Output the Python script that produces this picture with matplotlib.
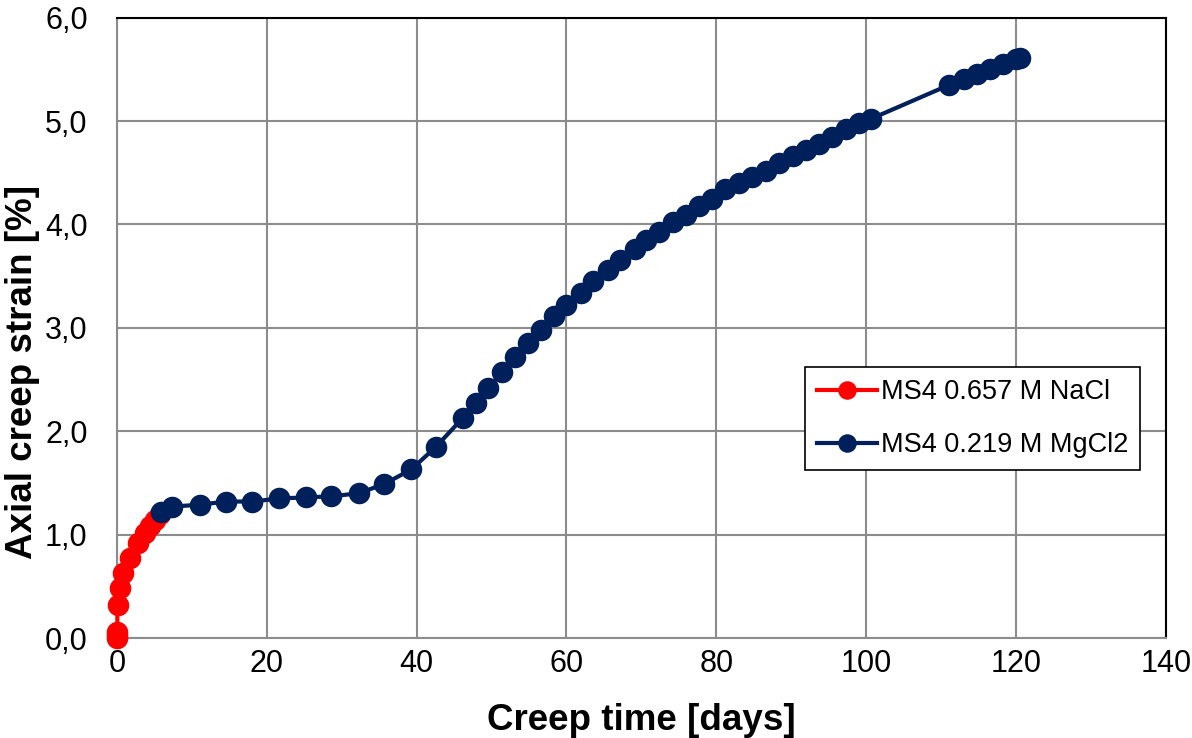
import matplotlib.pyplot as plt
from matplotlib.ticker import FuncFormatter

plt.rcParams['font.family'] = ['Liberation Sans', 'DejaVu Sans']

# MS4 0.657 M NaCl
nacl_days = [0.0, 0.02, 0.05, 0.1, 0.4, 0.85, 1.7, 2.8, 3.7, 4.4, 5.1, 5.7]
nacl_strain = [0.0, 0.03, 0.06, 0.32, 0.48, 0.63, 0.77, 0.92, 1.02, 1.08, 1.14, 1.2]

# MS4 0.219 M MgCl2
mgcl_days = [5.95, 7.3, 11.1, 14.6, 18.1, 21.7, 25.2, 28.6, 32.3, 35.7, 39.3, 42.6,
             46.2, 47.9, 49.6, 51.4, 53.2, 54.9, 56.6, 58.4, 60.0, 61.9, 63.6, 65.5,
             67.1, 69.1, 70.6, 72.4, 74.2, 75.9, 77.7, 79.5, 81.2, 83.1, 84.8, 86.6,
             88.4, 90.2, 92.0, 93.7, 95.5, 97.3, 99.1, 100.6, 111.1, 113.1, 114.8,
             116.5, 118.3, 120.0, 120.6]
mgcl_strain = [1.22, 1.27, 1.29, 1.32, 1.32, 1.35, 1.36, 1.37, 1.40, 1.49, 1.63, 1.85,
               2.13, 2.27, 2.42, 2.57, 2.72, 2.85, 2.98, 3.11, 3.22, 3.34, 3.45, 3.56,
               3.66, 3.76, 3.85, 3.93, 4.02, 4.09, 4.18, 4.25, 4.34, 4.40, 4.46, 4.52,
               4.59, 4.66, 4.72, 4.78, 4.85, 4.92, 4.98, 5.02, 5.35, 5.41, 5.46,
               5.50, 5.55, 5.60, 5.61]

fig = plt.figure(figsize=(11.92, 7.38), dpi=100)
ax = fig.add_axes([0.098, 0.1355, 0.88, 0.8405])

ax.plot(nacl_days, nacl_strain, color='#ff0000', lw=3, marker='o', ms=14.5,
        label='MS4 0.657 M NaCl', zorder=3, clip_on=False)
ax.plot(mgcl_days, mgcl_strain, color='#00205b', lw=3, marker='o', ms=14.5,
        label='MS4 0.219 M MgCl2', zorder=4, clip_on=False)

ax.set_xlim(0, 140)
ax.set_ylim(0, 6)
ax.set_xticks(range(0, 141, 20))
ax.set_yticks([0, 1, 2, 3, 4, 5, 6])
ax.yaxis.set_major_formatter(FuncFormatter(lambda v, p: f'{v:.1f}'.replace('.', ',')))
ax.tick_params(length=0, labelsize=22)
ax.tick_params(axis='y', pad=21)
ax.tick_params(axis='x', pad=8)

ax.grid(True, color='#8c8c8c', lw=1.5)
ax.set_axisbelow(True)
for s in ['left', 'bottom']:
    ax.spines[s].set_color('#8c8c8c')
    ax.spines[s].set_linewidth(1.5)
for s in ['top', 'right']:
    ax.spines[s].set_color('black')
    ax.spines[s].set_linewidth(1.5)

ax.set_xlabel('Creep time [days]', fontsize=26.5, fontweight='bold', labelpad=17)
ax.set_ylabel('Axial creep strain [%]', fontsize=26.5, fontweight='bold')
ax.yaxis.set_label_coords(-0.0735, 0.429)

leg = ax.legend(loc='upper left', bbox_to_anchor=(0.656, 0.437), fontsize=19.5,
                frameon=True, fancybox=False, edgecolor='black', framealpha=1,
                borderpad=0.45, labelspacing=1.0, handlelength=2.2, handletextpad=0.15,
                borderaxespad=0, markerscale=0.85)
leg.get_frame().set_linewidth(1.2)

fig.savefig('out.png', dpi=100)
